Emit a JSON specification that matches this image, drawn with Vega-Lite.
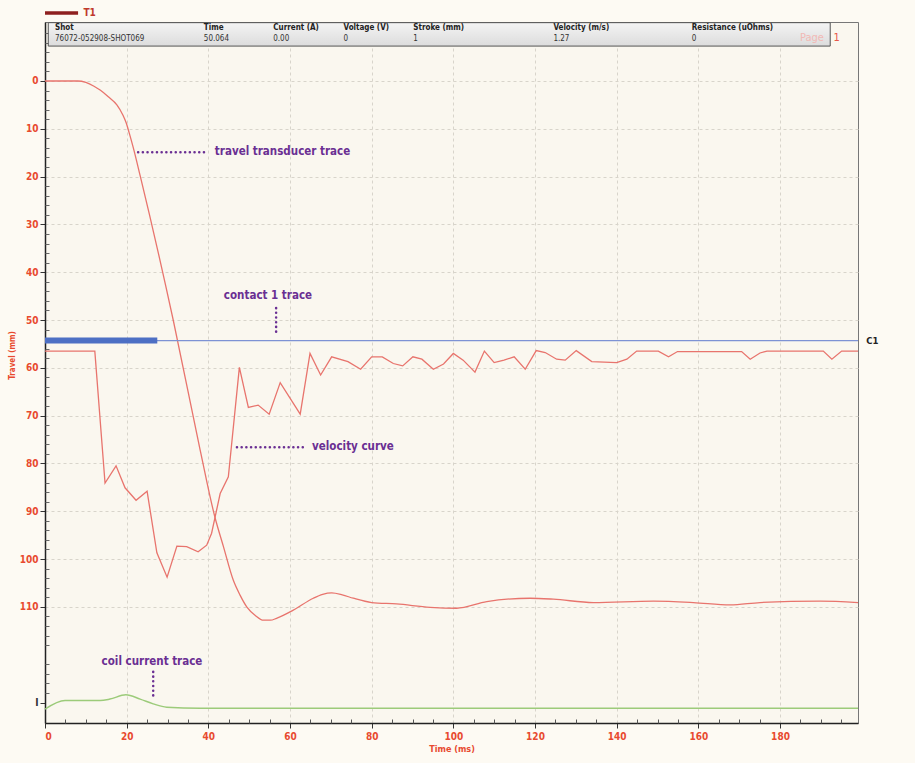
{
  "$schema": "https://vega.github.io/schema/vega-lite/v6.json",
  "width": 813,
  "height": 701,
  "autosize": {"type": "none"},
  "padding": {"left": 45, "top": 22, "right": 57, "bottom": 40},
  "background": "#fdfaf3",
  "config": {
    "view": {"fill": "#faf7ef", "stroke": "#777777", "strokeWidth": 1},
    "font": "DejaVu Sans Condensed, Roboto, Liberation Sans, sans-serif"
  },
  "datasets": {
    "travel": [
      {"t": 0, "v": 0}, {"t": 8.0, "v": 0}, {"t": 10.0, "v": 0.3}, {"t": 12.0, "v": 1.1}, {"t": 13.5, "v": 1.9}, {"t": 15.5, "v": 3.3}, {"t": 17.6, "v": 5.0},
      {"t": 19.0, "v": 7.0}, {"t": 19.9, "v": 8.8}, {"t": 20.6, "v": 10.8}, {"t": 21.6, "v": 13.9}, {"t": 23.3, "v": 19.8},
      {"t": 31.4, "v": 50.0}, {"t": 38.0, "v": 77.2}, {"t": 41.6, "v": 91.2}, {"t": 43.7, "v": 97.4},
      {"t": 46.1, "v": 104.4}, {"t": 47.8, "v": 107.6}, {"t": 49.4, "v": 110.0}, {"t": 51.5, "v": 111.8}, {"t": 53.5, "v": 112.8}, {"t": 55.2, "v": 112.8}, {"t": 56.7, "v": 112.4},
      {"t": 60.8, "v": 110.7}, {"t": 65.7, "v": 108.2}, {"t": 68.0, "v": 107.4}, {"t": 70.2, "v": 107.1}, {"t": 72.8, "v": 107.5}, {"t": 75.5, "v": 108.2},
      {"t": 80.0, "v": 109.1}, {"t": 86.1, "v": 109.4}, {"t": 94.3, "v": 110.1}, {"t": 100.8, "v": 110.3},
      {"t": 108.2, "v": 108.9}, {"t": 118.8, "v": 108.2}, {"t": 124.5, "v": 108.4}, {"t": 134.3, "v": 109.1},
      {"t": 149.0, "v": 108.8}, {"t": 158.8, "v": 109.1}, {"t": 167.8, "v": 109.6}, {"t": 175.1, "v": 109.1},
      {"t": 189.8, "v": 108.8}, {"t": 199.1, "v": 109.1}
    ],
    "velocity": [
      {"t": 0, "v": 56.5}, {"t": 12.2, "v": 56.5}, {"t": 14.7, "v": 84.1}, {"t": 17.4, "v": 80.5},
      {"t": 19.6, "v": 85.1}, {"t": 22.3, "v": 87.7}, {"t": 25.0, "v": 85.8}, {"t": 27.4, "v": 98.7},
      {"t": 29.9, "v": 103.8}, {"t": 32.3, "v": 97.3}, {"t": 34.7, "v": 97.4}, {"t": 37.5, "v": 98.5},
      {"t": 39.6, "v": 97.1}, {"t": 40.8, "v": 94.6}, {"t": 42.9, "v": 86.3}, {"t": 44.9, "v": 82.8},
      {"t": 47.6, "v": 59.9}, {"t": 49.8, "v": 68.3}, {"t": 52.2, "v": 67.8}, {"t": 54.9, "v": 69.7},
      {"t": 57.6, "v": 63.1}, {"t": 62.5, "v": 69.7}, {"t": 64.9, "v": 57.0}, {"t": 67.5, "v": 61.5},
      {"t": 70.2, "v": 57.7}, {"t": 74.2, "v": 58.7}, {"t": 77.3, "v": 60.3}, {"t": 80.0, "v": 57.7},
      {"t": 82.6, "v": 57.7}, {"t": 85.3, "v": 59.1}, {"t": 87.6, "v": 59.6}, {"t": 90.1, "v": 57.7},
      {"t": 92.3, "v": 58.2}, {"t": 95.1, "v": 60.3}, {"t": 97.6, "v": 59.2}, {"t": 100.0, "v": 57.0},
      {"t": 102.4, "v": 58.4}, {"t": 105.3, "v": 60.9}, {"t": 107.6, "v": 56.5}, {"t": 110.0, "v": 58.9},
      {"t": 112.4, "v": 58.4}, {"t": 114.9, "v": 57.7}, {"t": 117.6, "v": 60.3}, {"t": 120.3, "v": 56.4},
      {"t": 122.5, "v": 56.8}, {"t": 125.3, "v": 58.2}, {"t": 127.4, "v": 58.4}, {"t": 130.1, "v": 56.4},
      {"t": 133.9, "v": 58.7}, {"t": 140.0, "v": 58.9}, {"t": 142.5, "v": 58.2}, {"t": 144.9, "v": 56.5},
      {"t": 150.2, "v": 56.5}, {"t": 152.7, "v": 57.7}, {"t": 154.9, "v": 56.6}, {"t": 170.6, "v": 56.6},
      {"t": 172.7, "v": 58.2}, {"t": 175.1, "v": 56.9}, {"t": 176.8, "v": 56.5}, {"t": 190.6, "v": 56.5},
      {"t": 192.7, "v": 58.2}, {"t": 195.1, "v": 56.5}, {"t": 199.1, "v": 56.5}
    ],
    "current": [
      {"t": 0, "v": 131.4}, {"t": 4.9, "v": 129.6}, {"t": 13.5, "v": 129.6}, {"t": 15.9, "v": 129.3},
      {"t": 19.8, "v": 128.4}, {"t": 23.3, "v": 129.3}, {"t": 26.5, "v": 130.3}, {"t": 29.8, "v": 131.0},
      {"t": 38.0, "v": 131.2}, {"t": 199.1, "v": 131.2}
    ],
    "contact": [{"t": 0, "t2": 199.1, "v": 54.3}],
    "contactbar": [{"t": 0, "t2": 27.5, "v": 54.3}],
    "headerbox": [{"t": 0.8, "t2": 192.3, "v": -12.2, "v2": -7.3}],
    "headings": [
      {"t": 2.45, "v": -11.0, "text": "Shot"},
      {"t": 38.9, "v": -11.0, "text": "Time"},
      {"t": 55.9, "v": -11.0, "text": "Current (A)"},
      {"t": 73.1, "v": -11.0, "text": "Voltage (V)"},
      {"t": 90.2, "v": -11.0, "text": "Stroke (mm)"},
      {"t": 124.5, "v": -11.0, "text": "Velocity (m/s)"},
      {"t": 158.4, "v": -11.0, "text": "Resistance (uOhms)"}
    ],
    "hvalues": [
      {"t": 2.45, "v": -8.7, "text": "76072-052908-SHOT069"},
      {"t": 38.9, "v": -8.7, "text": "50.064"},
      {"t": 55.9, "v": -8.7, "text": "0.00"},
      {"t": 73.1, "v": -8.7, "text": "0"},
      {"t": 90.2, "v": -8.7, "text": "1"},
      {"t": 124.5, "v": -8.7, "text": "1.27"},
      {"t": 158.4, "v": -8.7, "text": "0"}
    ],
    "page": [{"t": 184.9, "v": -8.9, "text": "Page"}],
    "pagenum": [{"t": 193.1, "v": -8.9, "text": "1"}],
    "legendline": [{"t": 0, "t2": 8.1, "v": -14.2}],
    "legendtext": [{"t": 9.4, "v": -14.2, "text": "T1"}],
    "c1": [{"t": 201.1, "v": 54.3, "text": "C1"}],
    "leaders": [
      {"t": 22.8, "t2": 39.9, "v": 14.9, "v2": 14.9},
      {"t": 56.6, "t2": 56.6, "v": 47.5, "v2": 53.3},
      {"t": 47.0, "t2": 64.2, "v": 76.6, "v2": 76.6},
      {"t": 26.5, "t2": 26.5, "v": 123.6, "v2": 128.9}
    ],
    "notesleft": [
      {"t": 41.6, "v": 14.9, "text": "travel transducer trace"},
      {"t": 65.4, "v": 76.6, "text": "velocity curve"}
    ],
    "notescenter": [
      {"t": 54.6, "v": 45.0, "text": "contact 1 trace"},
      {"t": 26.2, "v": 121.5, "text": "coil current trace"}
    ]
  },
  "resolve": {"axis": {"x": "independent", "y": "independent"}},
  "encoding": {
    "x": {"field": "t", "type": "quantitative", "scale": {"domain": [0, 199.1], "nice": false, "zero": false}, "axis": null},
    "y": {"field": "v", "type": "quantitative", "scale": {"domain": [-12.34, 134.3], "nice": false, "zero": false, "reverse": true}, "axis": null}
  },
  "layer": [
    {
      "data": {"name": "travel"},
      "mark": {"type": "line", "color": "#e8746d", "strokeWidth": 1.3, "interpolate": "monotone"},
      "encoding": {
        "x": {
          "field": "t", "type": "quantitative",
          "scale": {"domain": [0, 199.1], "nice": false, "zero": false},
          "axis": {
            "orient": "bottom", "values": [0, 20, 40, 60, 80, 100, 120, 140, 160, 180],
            "title": "Time (ms)", "titleColor": "#e84a2f", "titleFontSize": 9, "titleFontWeight": "bold", "titlePadding": 3,
            "labelColor": "#e84a2f", "labelFontSize": 10, "labelFontWeight": "bold", "labelPadding": 3,
            "tickSize": 5, "tickColor": "#333333", "domainColor": "#222222", "domainWidth": 1.5,
            "grid": true, "gridColor": "#d8d4cb", "gridDash": [3, 3], "gridWidth": 1
          }
        },
        "y": {
          "field": "v", "type": "quantitative",
          "scale": {"domain": [-12.34, 134.3], "nice": false, "zero": false, "reverse": true},
          "axis": {
            "orient": "left", "values": [0, 10, 20, 30, 40, 50, 60, 70, 80, 90, 100, 110, 130.1],
            "labelExpr": "datum.value > 120 ? 'I' : datum.label",
            "title": "Travel (mm)", "titleColor": "#e84a2f", "titleFontSize": 8, "titleFontWeight": "bold",
            "titleX": -29, "titleY": 333,
            "labelColor": {"condition": {"test": "datum.value > 120", "value": "#333333"}, "value": "#e84a2f"},
            "labelFontSize": 10, "labelFontWeight": "bold", "labelPadding": 2,
            "tickSize": 5, "tickColor": "#333333", "domainColor": "#222222", "domainWidth": 1.5,
            "grid": true, "gridColor": "#d8d4cb", "gridDash": [3, 3], "gridWidth": 1,
            "gridOpacity": {"condition": {"test": "datum.value > 120", "value": 0}, "value": 1}
          }
        }
      }
    },
    {
      "data": {"name": "velocity"},
      "mark": {"type": "line", "color": "#e8746d", "strokeWidth": 1.3},
      "encoding": {
        "x": {
          "field": "t", "type": "quantitative",
          "scale": {"domain": [0, 199.1], "nice": false, "zero": false},
          "axis": {
            "orient": "bottom", "values": [5, 10, 15, 25, 30, 35, 45, 50, 55, 65, 70, 75, 85, 90, 95, 105, 110, 115, 125, 130, 135, 145, 150, 155, 165, 170, 175, 185, 190, 195],
            "labels": false, "domain": false, "grid": false, "title": null,
            "tickSize": -4, "tickColor": "#555555"
          }
        },
        "y": {
          "field": "v", "type": "quantitative",
          "scale": {"domain": [-12.34, 134.3], "nice": false, "zero": false, "reverse": true},
          "axis": {
            "orient": "left", "values": [-10, -8, -6, -4, -2, 2, 4, 6, 8, 12, 14, 16, 18, 22, 24, 26, 28, 32, 34, 36, 38, 42, 44, 46, 48, 52, 54, 56, 58, 62, 64, 66, 68, 72, 74, 76, 78, 82, 84, 86, 88, 92, 94, 96, 98, 102, 104, 106, 108, 112, 114, 116, 118, 122, 124, 126, 128],
            "labels": false, "domain": false, "grid": false, "title": null,
            "tickSize": -4, "tickColor": "#666666"
          }
        }
      }
    },
    {
      "data": {"name": "current"},
      "mark": {"type": "line", "color": "#9ccb7a", "strokeWidth": 1.5, "interpolate": "monotone"}
    },
    {
      "data": {"name": "contact"},
      "mark": {"type": "rule", "color": "#7d92d4", "strokeWidth": 1.2},
      "encoding": {"x2": {"field": "t2"}}
    },
    {
      "data": {"name": "contactbar"},
      "mark": {"type": "rule", "color": "#4d6fc4", "strokeWidth": 6},
      "encoding": {"x2": {"field": "t2"}}
    },
    {
      "data": {"name": "headerbox"},
      "mark": {
        "type": "rect", "stroke": "#555555", "strokeWidth": 1,
        "color": {"gradient": "linear", "x1": 0, "y1": 0, "x2": 0, "y2": 1, "stops": [{"offset": 0, "color": "#f4f4f4"}, {"offset": 1, "color": "#dcdcdc"}]}
      },
      "encoding": {"x2": {"field": "t2"}, "y2": {"field": "v2"}}
    },
    {
      "data": {"name": "headings"},
      "mark": {"type": "text", "align": "left", "baseline": "middle", "fontSize": 8, "fontWeight": "bold", "color": "#222222"},
      "encoding": {"text": {"field": "text"}}
    },
    {
      "data": {"name": "hvalues"},
      "mark": {"type": "text", "align": "left", "baseline": "middle", "fontSize": 8, "color": "#333333"},
      "encoding": {"text": {"field": "text"}}
    },
    {
      "data": {"name": "page"},
      "mark": {"type": "text", "align": "left", "baseline": "middle", "fontSize": 11, "color": "#f2b9b5"},
      "encoding": {"text": {"field": "text"}}
    },
    {
      "data": {"name": "pagenum"},
      "mark": {"type": "text", "align": "left", "baseline": "middle", "fontSize": 11, "color": "#e8584a"},
      "encoding": {"text": {"field": "text"}}
    },
    {
      "data": {"name": "legendline"},
      "mark": {"type": "rule", "color": "#8e1f1f", "strokeWidth": 3.5},
      "encoding": {"x2": {"field": "t2"}}
    },
    {
      "data": {"name": "legendtext"},
      "mark": {"type": "text", "align": "left", "baseline": "middle", "fontSize": 10, "fontWeight": "bold", "color": "#c0392b"},
      "encoding": {"text": {"field": "text"}}
    },
    {
      "data": {"name": "c1"},
      "mark": {"type": "text", "align": "left", "baseline": "middle", "fontSize": 9.5, "fontWeight": "bold", "color": "#222222"},
      "encoding": {"text": {"field": "text"}}
    },
    {
      "data": {"name": "leaders"},
      "mark": {"type": "rule", "color": "#6a2f93", "strokeWidth": 2.5, "strokeCap": "round", "strokeDash": [0.1, 4.6]},
      "encoding": {"x2": {"field": "t2"}, "y2": {"field": "v2"}}
    },
    {
      "data": {"name": "notesleft"},
      "mark": {"type": "text", "align": "left", "baseline": "middle", "fontSize": 11.5, "fontWeight": "bold", "color": "#6a2f93"},
      "encoding": {"text": {"field": "text"}}
    },
    {
      "data": {"name": "notescenter"},
      "mark": {"type": "text", "align": "center", "baseline": "middle", "fontSize": 11.5, "fontWeight": "bold", "color": "#6a2f93"},
      "encoding": {"text": {"field": "text"}}
    }
  ]
}
